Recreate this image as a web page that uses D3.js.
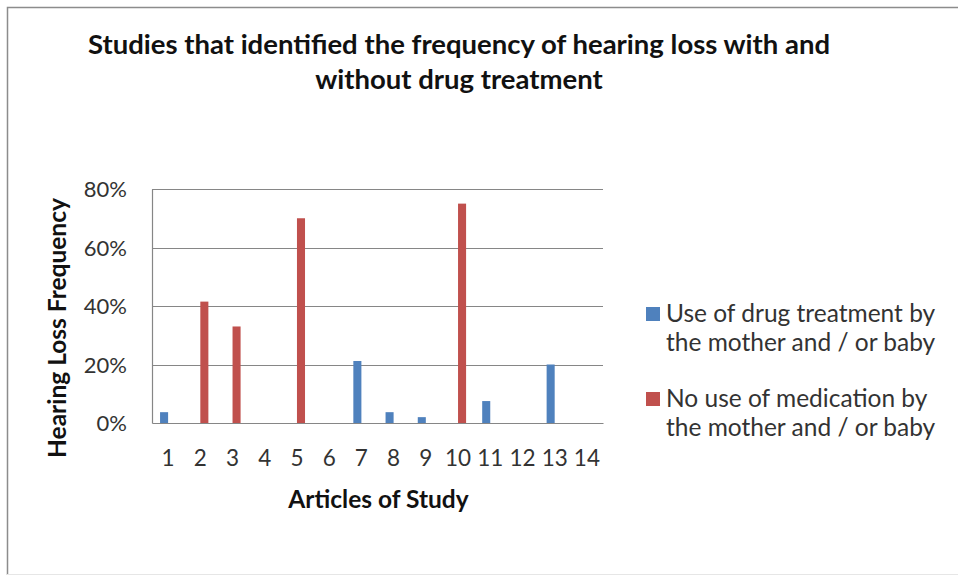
<!DOCTYPE html>
<html>
<head>
<meta charset="utf-8">
<script src="https://cdn.jsdelivr.net/npm/d3@7"></script>
<style>
  html, body { margin: 0; padding: 0; background: #fff; }
  svg { display: block; }
  text { font-family: Lato, "Open Sans", sans-serif; }
</style>
</head>
<body>
<svg id="chart" width="958" height="577"></svg>
<script>
// Article numbers along the x axis
const articles = ["1","2","3","4","5","6","7","8","9","10","11","12","13","14"];
// Hearing loss frequency (%) per article, by treatment group
const withDrug    = [3.7, null, null, null, null, null, 21.2, 3.7, 2, null, 7.5, null, 20, null];
const withoutDrug = [null, 41.5, 33, null, 70, null, null, null, null, 75, null, null, null, null];
const legendLines = [
  ["Use of drug treatment by", "the mother and / or baby"],
  ["No use of medication by", "the mother and / or baby"]
];
const seriesColors = ["#4F81BD", "#C0504D"];
const yTicks = [0, 20, 40, 60, 80];
const titleLines = [
  "Studies that identified the frequency of hearing loss with and",
  "without drug treatment"
];

const svg = d3.select("#chart");
const W = 958;
const plot = { left: 152, right: 603, top: 189, bottom: 423 };

// chart frame
svg.append("path")
  .attr("d", `M7.5,575 V7.5 H958`)
  .attr("fill", "none").attr("stroke", "#8c8c8c").attr("stroke-width", 1.5);
svg.append("line")
  .attr("x1", 7).attr("x2", W).attr("y1", 574.5).attr("y2", 574.5)
  .attr("stroke", "#e6e6e6").attr("stroke-width", 1);

// title
svg.append("g").selectAll("text").data(titleLines).join("text")
  .attr("x", 459).attr("y", (d, i) => 54 + i * 35)
  .attr("text-anchor", "middle")
  .attr("font-weight", "bold").attr("font-size", 27.5).attr("fill", "#111")
  .text(d => d);

const x = d3.scaleBand().domain(articles).range([plot.left, plot.right]).padding(0);
const xs = d3.scaleBand().domain([0, 1]).range([0, x.bandwidth()]).paddingInner(0).paddingOuter(1);
const y = d3.scaleLinear().domain([0, 80]).range([plot.bottom, plot.top]);

// gridlines
svg.append("g").selectAll("line").data(yTicks.filter(t => t > 0)).join("line")
  .attr("x1", plot.left).attr("x2", plot.right)
  .attr("y1", d => Math.round(y(d)) + 0.5).attr("y2", d => Math.round(y(d)) + 0.5)
  .attr("stroke", "#868686").attr("stroke-width", 1.2);

// bars
[withDrug, withoutDrug].forEach((vals, si) => {
  svg.append("g").selectAll("rect")
    .data(articles.map((a, i) => ({ a, v: vals[i] })).filter(d => d.v != null))
    .join("rect")
    .attr("x", d => x(d.a) + xs(si))
    .attr("width", xs.bandwidth())
    .attr("y", d => y(d.v))
    .attr("height", d => y(0) - y(d.v))
    .attr("fill", seriesColors[si]);
});

// y axis
const yAxis = svg.append("g").attr("transform", `translate(${plot.left},0)`)
  .call(d3.axisLeft(y).tickValues(yTicks).tickFormat(d => d + "%").tickSize(0).tickPadding(25));
yAxis.select(".domain").attr("stroke", "#868686").attr("stroke-width", 1.2);
yAxis.selectAll("text").attr("font-size", 22).attr("fill", "#333").attr("dy", "0.36em");

// x axis
const xAxis = svg.append("g").attr("transform", `translate(0,${plot.bottom})`)
  .call(d3.axisBottom(x).tickSize(0));
xAxis.select(".domain").attr("stroke", "#868686").attr("stroke-width", 1.2);
xAxis.selectAll("text").attr("font-size", 22.5).attr("fill", "#333")
  .attr("y", 43).attr("dy", 0);

// axis titles
svg.append("text")
  .attr("x", (plot.left + plot.right) / 2 + 1).attr("y", 508)
  .attr("text-anchor", "middle").attr("font-weight", "bold").attr("font-size", 24.5).attr("fill", "#111")
  .text("Articles of Study");
svg.append("text")
  .attr("transform", "translate(66,328) rotate(-90)")
  .attr("text-anchor", "middle").attr("font-weight", "bold").attr("font-size", 24.5).attr("fill", "#111")
  .text("Hearing Loss Frequency");

// legend
const legendBase = [322, 407];
legendLines.forEach((lines, i) => {
  const base = legendBase[i];
  svg.append("rect")
    .attr("x", 646).attr("y", base - 15).attr("width", 14).attr("height", 14)
    .attr("fill", seriesColors[i]);
  svg.append("g").selectAll("text").data(lines).join("text")
    .attr("x", 666).attr("y", (d, j) => base + j * 29)
    .attr("font-size", 24.5).attr("fill", "#333")
    .text(d => d);
});
</script>
</body>
</html>
